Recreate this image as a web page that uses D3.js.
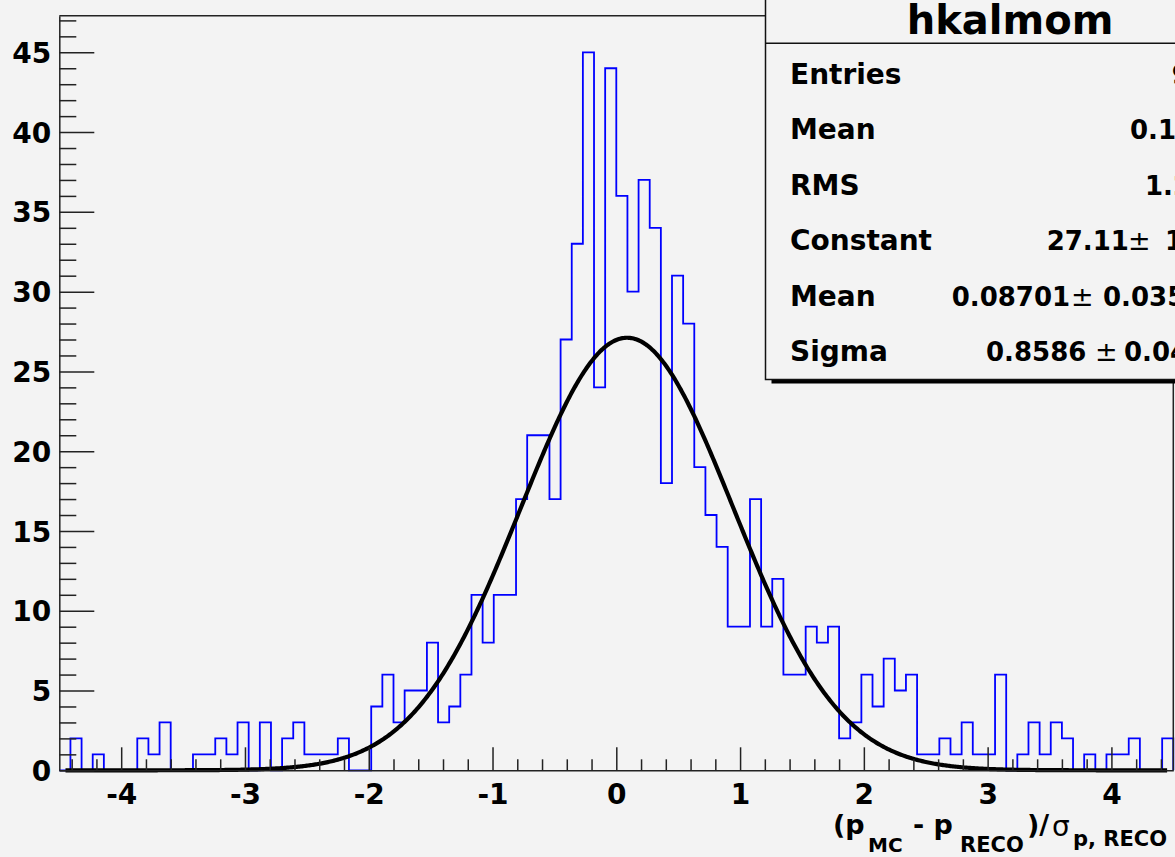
<!DOCTYPE html>
<html>
<head>
  <meta charset="utf-8">
  <title>hkalmom</title>
  <style>
    body { margin: 0; background: #f3f3f3; overflow: hidden; }
    svg { display: block; font-family: "DejaVu Sans", sans-serif; font-weight: bold; }
  </style>
</head>
<body>
<script type="text/javascript" src="https://cdnjs.cloudflare.com/ajax/libs/d3/7.8.5/d3.min.js"></script>
<script type="text/javascript">
// histogram hkalmom: 100 bins between -4.5 and 4.5
var binLow = -4.5;
var binHigh = 4.5;
var binCounts = [0, 2, 0, 1, 0, 0, 0, 2, 1, 3,
                 0, 0, 1, 1, 2, 1, 3, 0, 3, 0,
                 2, 3, 1, 1, 1, 2, 0, 0, 4, 6,
                 3, 5, 5, 8, 3, 4, 6, 11, 8, 11,
                 11, 17, 21, 21, 17, 27, 33, 45, 24, 44,
                 36, 30, 37, 34, 18, 31, 28, 19, 16, 14,
                 9, 9, 17, 9, 12, 6, 6, 9, 8, 9,
                 2, 3, 6, 4, 7, 5, 6, 1, 1, 2,
                 1, 3, 1, 1, 6, 0, 1, 3, 1, 3,
                 2, 0, 1, 0, 1, 1, 2, 0, 0, 2];

// gaus fit parameters (from the stats box)
var fitConstant = 27.11;
var fitMean = 0.08701;
var fitSigma = 0.8586;

var xTickValues = [-4, -3, -2, -1, 0, 1, 2, 3, 4];
var yTickValues = [0, 5, 10, 15, 20, 25, 30, 35, 40, 45];

var statNames = ["Entries", "Mean", "RMS", "Constant", "Mean", "Sigma"];
var statValues = ["912", "0.1188", "1.295", "27.11", "0.08701", "0.8586"];
var statErrors = [null, null, null, "1.24", "0.0355", "0.0421"];

var w = 1175;
var h = 857;

var svg = d3.select("body")
            .append("svg")
            .attr("width", w)
            .attr("height", h);

var x = d3.scaleLinear().domain([binLow, binHigh]).range([59.3, 1173.3]);
var y = d3.scaleLinear().domain([0, 45]).range([770.3, 52.3]);
var yTop = y.invert(15.7);

var nBins = binCounts.length;
var binWidth = (binHigh - binLow) / nBins;

// histogram outline
var histPath = d3.path();
histPath.moveTo(x(binLow), y(0));
binCounts.forEach(function (c, i) {
  histPath.lineTo(x(binLow + i * binWidth), y(c));
  histPath.lineTo(x(binLow + (i + 1) * binWidth), y(c));
});
histPath.lineTo(x(binHigh), y(0));

svg.append("path")
   .attr("d", histPath.toString())
   .attr("fill", "none")
   .attr("stroke", "#0000ff")
   .attr("stroke-width", 1.8);

// fitted gaussian
var fitX = d3.range(-4.45, 4.451, 0.01);
var gaus = function (v) {
  var t = (v - fitMean) / fitSigma;
  return fitConstant * Math.exp(-0.5 * t * t);
};

svg.append("path")
   .datum(fitX)
   .attr("d", d3.line()
                .x(function (d) { return x(d); })
                .y(function (d) { return y(gaus(d)); }))
   .attr("fill", "none")
   .attr("stroke", "#000")
   .attr("stroke-width", 4.2);

// frame (top and right)
svg.append("line")
   .attr("x1", x(binLow)).attr("x2", x(binHigh))
   .attr("y1", y(yTop)).attr("y2", y(yTop))
   .attr("stroke", "#222").attr("stroke-width", 1.5);
svg.append("line")
   .attr("x1", x(binHigh)).attr("x2", x(binHigh))
   .attr("y1", y(yTop)).attr("y2", y(0))
   .attr("stroke", "#222").attr("stroke-width", 1.5);

var plainFormat = function (d) { return String(d); };

// y axis
var yAxis = svg.append("g")
   .attr("transform", "translate(" + x(binLow) + ",0)")
   .call(d3.axisLeft(y.copy().domain([0, yTop]).range([y(0), y(yTop)]))
           .tickValues(yTickValues)
           .tickSizeInner(-35)
           .tickSizeOuter(0)
           .tickPadding(8)
           .tickFormat(plainFormat));

svg.append("g")
   .attr("transform", "translate(" + x(binLow) + ",0)")
   .call(d3.axisLeft(y)
           .tickValues(d3.range(0, 48).filter(function (v) { return v % 5 != 0; }))
           .tickSizeInner(-17)
           .tickFormat(""))
   .select(".domain").remove();

// x axis
var xAxis = svg.append("g")
   .attr("transform", "translate(0," + y(0) + ")")
   .call(d3.axisBottom(x)
           .tickValues(xTickValues)
           .tickSizeInner(-23)
           .tickSizeOuter(0)
           .tickPadding(14)
           .tickFormat(plainFormat));

svg.append("g")
   .attr("transform", "translate(0," + y(0) + ")")
   .call(d3.axisBottom(x)
           .tickValues(d3.range(-22, 23).filter(function (v) { return v % 5 != 0; })
                         .map(function (v) { return v / 5; }))
           .tickSizeInner(-11)
           .tickFormat(""))
   .select(".domain").remove();

svg.selectAll(".tick line, .domain")
   .attr("stroke", "#222")
   .attr("stroke-width", 1.5);

svg.selectAll(".tick text")
   .attr("font-family", "DejaVu Sans")
   .attr("font-weight", "bold")
   .attr("font-size", "28px")
   .attr("fill", "#000");

yAxis.selectAll(".tick text").attr("dy", "0.36em");

// x axis title: (p_MC - p_RECO)/sigma_p,RECO
var title = svg.append("text")
   .attr("fill", "#000");
var titleParts = [
  { t: "(p", x: 833, y: 834, s: 27, wt: "bold" },
  { t: "MC", x: 868, y: 852, s: 20, wt: "bold" },
  { t: "- p", x: 913, y: 834, s: 27, wt: "bold" },
  { t: "RECO", x: 960, y: 852, s: 21, wt: "bold" },
  { t: ")/", x: 1027, y: 834, s: 27, wt: "bold" },
  { t: "\u03c3", x: 1052, y: 836, s: 28, wt: "normal" },
  { t: "p, RECO", x: 1073, y: 846, s: 21, wt: "bold" }
];
title.selectAll("tspan")
     .data(titleParts)
     .enter()
     .append("tspan")
     .attr("x", function (d) { return d.x; })
     .attr("y", function (d) { return d.y; })
     .attr("font-size", function (d) { return d.s + "px"; })
     .attr("font-weight", function (d) { return d.wt; })
     .text(function (d) { return d.t; });

// stats box
var boxLeft = 765.5;
var boxBottom = 379.5;
svg.append("rect")
   .attr("x", boxLeft + 6).attr("y", boxBottom)
   .attr("width", 500).attr("height", 4)
   .attr("fill", "#000");
svg.append("rect")
   .attr("x", boxLeft).attr("y", -10)
   .attr("width", 500).attr("height", boxBottom + 10)
   .attr("fill", "#f3f3f3")
   .attr("stroke", "#111")
   .attr("stroke-width", 1.5);
svg.append("line")
   .attr("x1", boxLeft).attr("x2", w)
   .attr("y1", 43.3).attr("y2", 43.3)
   .attr("stroke", "#111").attr("stroke-width", 1.5);
svg.append("text")
   .attr("x", 1010).attr("y", 34)
   .attr("text-anchor", "middle")
   .attr("font-size", "40px")
   .text("hkalmom");

var rowY = function (i) { return 83.5 + i * 55.5; };
var valueX = [1171.7, 1130, 1145, 1046.7, 951.7, 986];
var pmX = [null, null, null, 1128, 1071, 1095];
var errX = [null, null, null, 1165, 1103, 1124];

svg.selectAll(".statname")
   .data(statNames)
   .enter()
   .append("text")
   .attr("class", "statname")
   .attr("x", 790)
   .attr("y", function (d, i) { return rowY(i); })
   .attr("font-size", "28px")
   .text(function (d) { return d; });

statValues.forEach(function (v, i) {
  svg.append("text")
     .attr("x", valueX[i]).attr("y", rowY(i))
     .attr("font-size", "26px")
     .text(v);
  if (statErrors[i] != null) {
    svg.append("text")
       .attr("x", pmX[i]).attr("y", rowY(i))
       .attr("font-size", "27px")
       .attr("font-weight", "normal")
       .text("\u00b1");
    svg.append("text")
       .attr("x", errX[i]).attr("y", rowY(i))
       .attr("font-size", "26px")
       .text(statErrors[i]);
  }
});
</script>
</body>
</html>
